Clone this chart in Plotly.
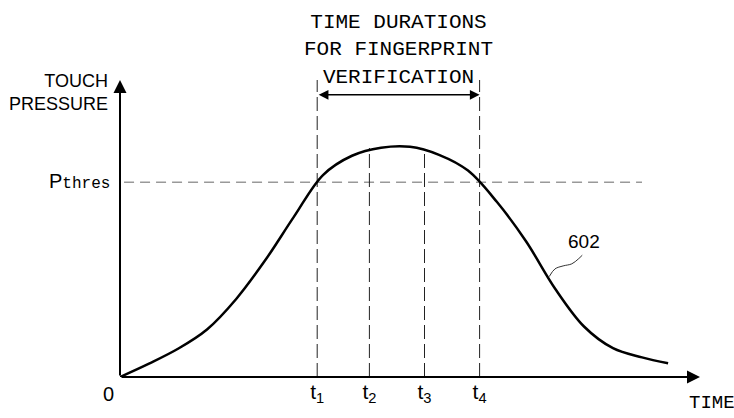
import plotly.graph_objects as go

# Curve 602: touch pressure over time
time = [0, 0.5, 1.0, 1.5, 2.0, 2.5, 3.0, 3.5, 4.0, 4.5, 5.0, 5.5, 6.0, 6.5, 7.0, 7.5, 8.0, 8.5, 9.0, 9.45]
pressure = [0.0, 0.045, 0.095, 0.160, 0.262, 0.392, 0.540, 0.680, 0.745, 0.772, 0.775, 0.748, 0.695,
            0.589, 0.457, 0.298, 0.170, 0.097, 0.066, 0.046]

p_thres = 0.656
t_marks = [3.4, 4.3, 5.25, 6.2]
t_labels = ["t<sub>1</sub>", "t<sub>2</sub>", "t<sub>3</sub>", "t<sub>4</sub>"]
t_tops = [1.0, 0.771, 0.758, 1.0]
dur_y = 0.95
leader_x = [7.40, 7.50, 7.64, 7.79, 7.90, 7.97]
leader_y = [0.338, 0.364, 0.374, 0.381, 0.397, 0.41]

x_max, y_max = 10.0, 1.0
BLACK = "#000000"
sans = "Liberation Sans, Arial, sans-serif"
mono = "Liberation Mono, DejaVu Sans Mono, monospace"

fig = go.Figure()

# threshold line
fig.add_trace(go.Scatter(x=[0.07, 9.0], y=[p_thres, p_thres], mode="lines",
                         line=dict(color="#999999", width=1.5, dash="10px,6px"),
                         hoverinfo="skip", showlegend=False))
# vertical dashed lines at t1..t4
for tm, top in zip(t_marks, t_tops):
    fig.add_trace(go.Scatter(x=[tm, tm], y=[0, top], mode="lines",
                             line=dict(color="#222222", width=1, dash="14px,5px"),
                             hoverinfo="skip", showlegend=False))
# main curve
fig.add_trace(go.Scatter(x=time, y=pressure, mode="lines",
                         line=dict(color=BLACK, width=2.5, shape="spline", smoothing=1.0),
                         hoverinfo="skip", showlegend=False))
# leader line for 602
fig.add_trace(go.Scatter(x=leader_x, y=leader_y, mode="lines",
                         line=dict(color="#333333", width=1, shape="spline"),
                         hoverinfo="skip", showlegend=False))

ann = []
# axes arrows
ann.append(dict(x=0, y=y_max, ax=0, ay=0, xref="x", yref="y", axref="x", ayref="y",
                showarrow=True, arrowhead=2, arrowsize=1.3, arrowwidth=2, arrowcolor=BLACK, text=""))
ann.append(dict(x=x_max, y=0, ax=0, ay=0, xref="x", yref="y", axref="x", ayref="y",
                showarrow=True, arrowhead=2, arrowsize=1.3, arrowwidth=2, arrowcolor=BLACK, text=""))
# duration double arrow
ann.append(dict(x=t_marks[3], y=dur_y, ax=t_marks[0], ay=dur_y, xref="x", yref="y", axref="x", ayref="y",
                showarrow=True, arrowhead=2, startarrowhead=2, arrowside="end+start",
                arrowsize=1.3, startarrowsize=1.3, arrowwidth=1.5, arrowcolor=BLACK, text=""))
# texts
ann.append(dict(x=(t_marks[0] + t_marks[3]) / 2, y=1.0, xref="x", yref="y", yshift=30,
                text="TIME DURATIONS<br>FOR FINGERPRINT<br>VERIFICATION", showarrow=False,
                yanchor="middle", font=dict(family=mono, size=21, color=BLACK), align="center"))
ann.append(dict(x=0, y=1.0, xref="x", yref="y", xshift=-10, yshift=-12,
                text="TOUCH<br>PRESSURE", showarrow=False, xanchor="right", yanchor="middle",
                align="right", font=dict(family=sans, size=18, color=BLACK)))
ann.append(dict(x=0, y=p_thres, xref="x", yref="y", xshift=-8, yshift=1,
                text='P<span style="font-family:Liberation Mono, monospace;font-size:16px">thres</span>',
                showarrow=False, xanchor="right", yanchor="middle",
                font=dict(family=sans, size=20, color=BLACK)))
ann.append(dict(x=0, y=0, xref="x", yref="y", xshift=-12, yshift=-17,
                text="0", showarrow=False, xanchor="center", yanchor="middle",
                font=dict(family=sans, size=20, color=BLACK)))
ann.append(dict(x=x_max, y=0, xref="x", yref="y", xshift=-13, yshift=-26,
                text="TIME", showarrow=False, xanchor="left", yanchor="middle",
                font=dict(family=mono, size=19, color=BLACK)))
ann.append(dict(x=leader_x[-1], y=leader_y[-1], xref="x", yref="y", xshift=-16, yshift=1,
                text="602", showarrow=False, xanchor="left", yanchor="bottom",
                font=dict(family=sans, size=19, color=BLACK)))

fig.update_layout(
    width=734, height=418,
    margin=dict(l=120, r=34, t=80, b=36),
    paper_bgcolor="white", plot_bgcolor="white",
    xaxis=dict(range=[0, x_max], showgrid=False, zeroline=False, showline=False,
               tickvals=t_marks, ticktext=t_labels, ticks="",
               tickfont=dict(family=sans, size=21, color=BLACK), fixedrange=True),
    yaxis=dict(range=[0, y_max], showgrid=False, zeroline=False, showline=False,
               showticklabels=False, ticks="", fixedrange=True),
    annotations=ann,
)

fig.write_html("out.html", config={"displayModeBar": False},
               post_script="document.body.style.margin='0px';document.body.style.overflow='hidden';")
